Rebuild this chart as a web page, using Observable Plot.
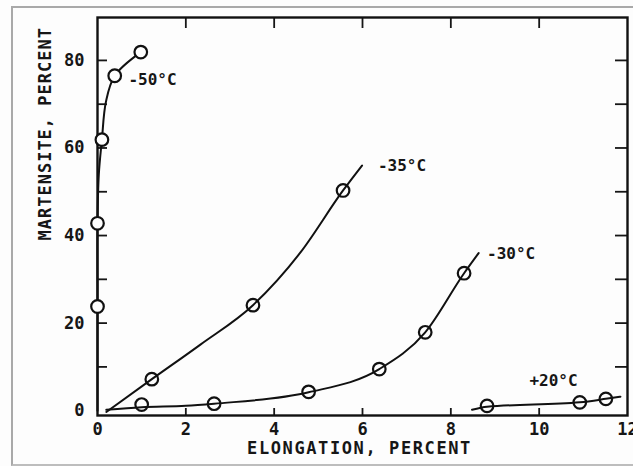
<!DOCTYPE html>
<html>
<head>
<meta charset="utf-8">
<script src="https://cdn.jsdelivr.net/npm/d3@7"></script>
<script src="https://cdn.jsdelivr.net/npm/@observablehq/plot@0.6"></script>
<style>
  html, body { margin: 0; padding: 0; background: #fff; }
  #wrap { position: relative; width: 633px; height: 466px; overflow: hidden; background: #fdfdfd; }
  #border { position: absolute; left: 11px; top: 6px; width: 640px; height: 456px;
            border-left: 2px solid #a9a9a9; border-top: 2px solid #a9a9a9; border-bottom: 2px solid #bdbdbd; pointer-events: none; }
  #chart { position: absolute; left: 0; top: 0; }
</style>
</head>
<body>
<div id="wrap"><div id="chart"></div><div id="border"></div></div>
<script>
// Data
const xTitle = "ELONGATION, PERCENT";
const yTitle = "MARTENSITE, PERCENT";
const xTickLabels = [0, 2, 4, 6, 8, 10, 12];
const xTickMarks = [2, 4, 6, 8, 10];
const yTickLabels = [0, 20, 40, 60, 80];
const yTickMarks = [10, 20, 30, 40, 50, 60, 70, 80];

// measured points (circles)
const p50x = [0, 0, 0.1, 0.39, 0.98];
const p50y = [23.8, 42.8, 61.9, 76.5, 81.9];
const p35x = [1.23, 3.52, 5.56];
const p35y = [7.2, 24.1, 50.3];
const p30x = [1.0, 2.64, 4.78, 6.38, 7.42, 8.3];
const p30y = [1.4, 1.6, 4.3, 9.5, 17.9, 31.4];
const p20x = [8.82, 10.92, 11.51];
const p20y = [1.1, 1.9, 2.7];

// hand-drawn curves
const c50x = [0, 0, 0, 0.03, 0.1, 0.19, 0.39, 0.98];
const c50y = [0, 23.8, 42.8, 54, 61.9, 70.5, 76.5, 81.9];
const c35x = [0.2, 1.23, 2.33, 3.52, 4.6, 5.56, 5.99];
const c35y = [-0.3, 7.2, 15.1, 24.1, 36.2, 50.3, 56.0];
const c30x = [0.2, 1.0, 2.0, 2.64, 4.78, 6.38, 7.42, 8.3, 8.63];
const c30y = [0.2, 0.8, 1.1, 1.6, 4.2, 9.5, 17.9, 31.4, 36.0];
const c20x = [8.48, 8.82, 10.92, 11.51, 11.84];
const c20y = [0.2, 0.9, 1.9, 2.7, 3.2];

// series labels
const labelText = ["-50°C", "-35°C", "-30°C", "+20°C"];
const labelX = [0.7, 6.35, 8.82, 9.78];
const labelY = [75.6, 55.8, 35.9, 6.9];

const zip = (xs, ys) => xs.map((x, i) => ({x, y: ys[i]}));
const pts50 = zip(p50x, p50y);
const ptsOther = [...zip(p35x, p35y), ...zip(p30x, p30y), ...zip(p20x, p20y)];
const labels = labelText.map((t, i) => ({t, x: labelX[i], y: labelY[i]}));

const font = "'DejaVu Sans Mono', monospace";
const ink = "#161616";

const chart = Plot.plot({
  width: 633,
  height: 466,
  marginLeft: 97,
  marginRight: 6,
  marginTop: 17,
  marginBottom: 51,
  style: {fontFamily: font, color: ink, background: "transparent"},
  x: {domain: [0, 12]},
  y: {domain: [-1.1, 89.8]},
  marks: [
    // inward tick marks
    Plot.axisX(xTickMarks, {anchor: "bottom", tickSize: -7, tickFormat: () => "", strokeWidth: 1.8, label: null}),
    Plot.axisX(xTickMarks, {anchor: "top", tickSize: -10, tickFormat: () => "", strokeWidth: 1.8, label: null}),
    Plot.axisY(yTickMarks, {anchor: "left", tickSize: -10, tickFormat: () => "", strokeWidth: 1.8, label: null}),
    Plot.axisY(yTickMarks, {anchor: "right", tickSize: -13, tickFormat: () => "", strokeWidth: 1.8, label: null}),
    // tick labels
    Plot.axisX(xTickLabels, {anchor: "bottom", tickSize: 0, tickPadding: 7, fontSize: 17, fontWeight: "bold", label: null, tickFormat: d => String(d)}),
    Plot.axisY(yTickLabels, {anchor: "left", tickSize: 0, tickPadding: 13, fontSize: 17, fontWeight: "bold", label: null, tickFormat: d => String(d)}),
    // axis titles
    Plot.text([xTitle], {text: d => d, frameAnchor: "bottom", dy: 38, dx: -3, fontSize: 17, fontWeight: "bold", fill: ink}),
    Plot.text([yTitle], {text: d => d, frameAnchor: "left", rotate: -90, dx: -52, dy: 24, fontSize: 17, fontWeight: "bold", fill: ink}),
    // frame
    Plot.frame({stroke: "#111", strokeWidth: 2.4}),
    // curves
    Plot.line(zip(c50x, c50y), {x: "x", y: "y", curve: "catmull-rom", stroke: "#111", strokeWidth: 2}),
    Plot.line(zip(c35x, c35y), {x: "x", y: "y", curve: "monotone-x", stroke: "#111", strokeWidth: 2}),
    Plot.line(zip(c30x, c30y), {x: "x", y: "y", curve: "monotone-x", stroke: "#111", strokeWidth: 2}),
    Plot.line(zip(c20x, c20y), {x: "x", y: "y", curve: "monotone-x", stroke: "#111", strokeWidth: 2}),
    // data circles
    Plot.dot(pts50, {x: "x", y: "y", r: 6.3, stroke: "#111", strokeWidth: 2.2, fill: "white"}),
    Plot.dot(ptsOther, {x: "x", y: "y", r: 6.3, stroke: "#111", strokeWidth: 2.2, fill: "none"}),
    // series labels
    Plot.text(labels, {x: "x", y: "y", text: "t", textAnchor: "start", fontSize: 16, fontWeight: "bold", fill: ink})
  ]
});
document.getElementById("chart").appendChild(chart);

// letter spacing for the axis titles
d3.select(chart).selectAll("text")
  .filter(function () { return this.textContent === xTitle; })
  .attr("letter-spacing", "1.6px");
d3.select(chart).selectAll("text")
  .filter(function () { return this.textContent === yTitle; })
  .attr("letter-spacing", "1px");
</script>
</body>
</html>
